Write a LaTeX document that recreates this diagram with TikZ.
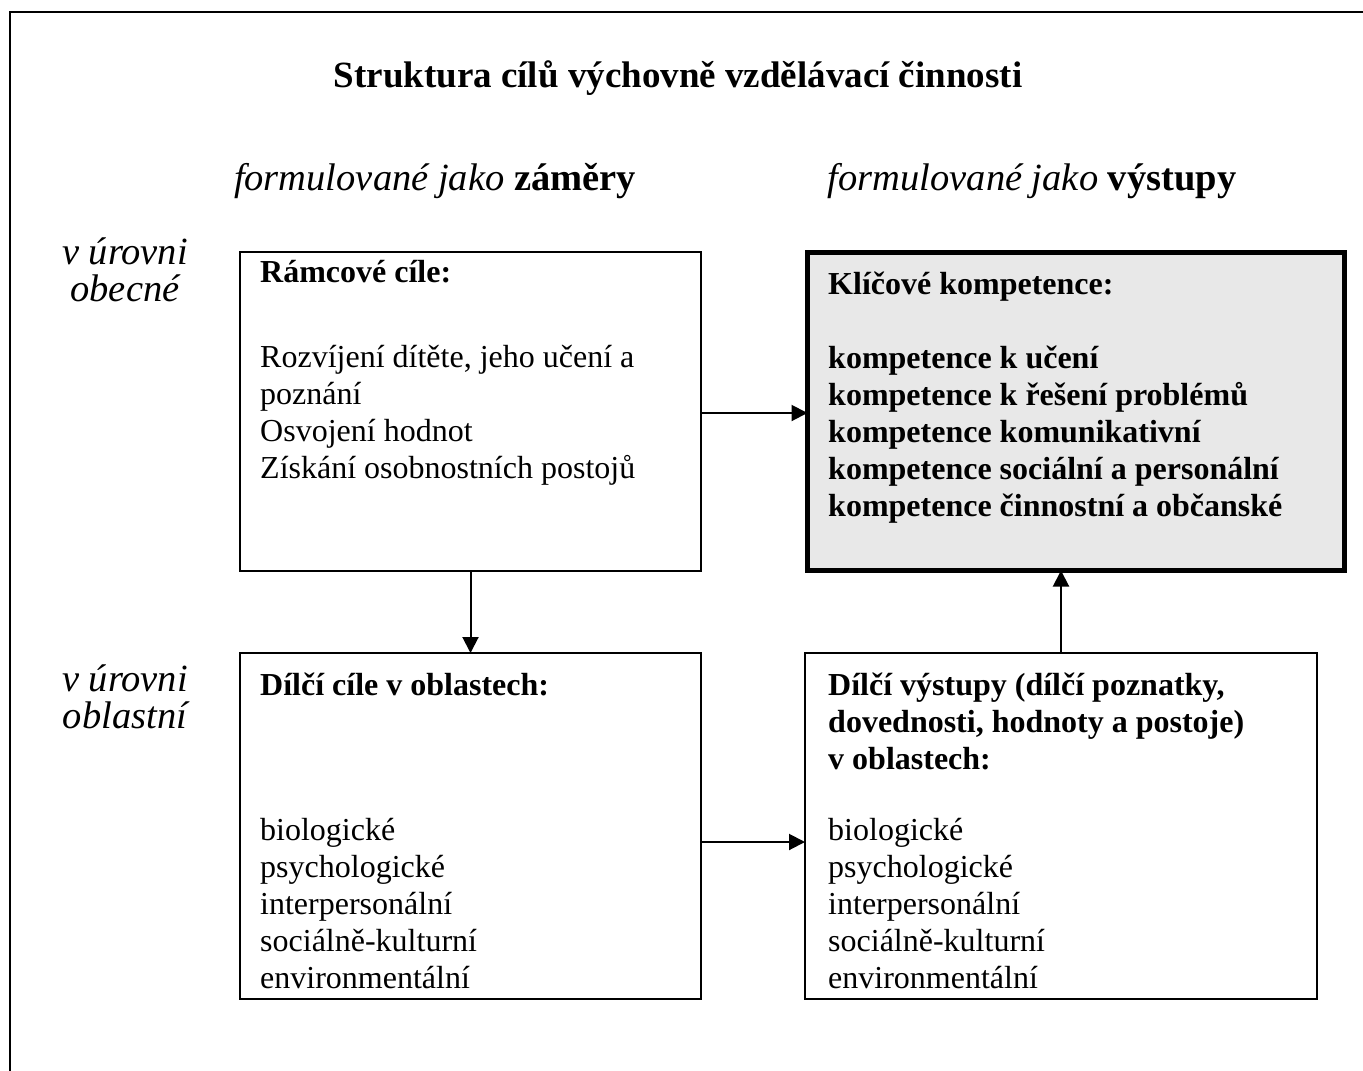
\documentclass[tikz,border=0pt]{standalone}
\usepackage{fontspec}
\setmainfont{Liberation Serif}
\usetikzlibrary{arrows.meta,calc}
\begin{document}
\begin{tikzpicture}[x=1pt,y=1pt,
  box/.style={draw, line width=2.2pt, inner sep=0pt, outer sep=0pt, anchor=north west},
  keybox/.style={box, line width=5pt, fill=black!9},
  txt/.style={anchor=base west, inner sep=0pt, align=left, font=\fontsize{32}{37}\selectfont},
  lvl/.style={anchor=base, inner sep=0pt, align=center, font=\fontsize{38.5}{37}\selectfont\itshape},
  head/.style={anchor=base, inner sep=0pt, font=\fontsize{38.5}{42}\selectfont},
  arr/.style={line width=2pt, -{Triangle[length=16pt,width=16pt]}}
]
\useasboundingbox (0,0) rectangle (1363,-1071);
% outer frame (only top and left edges visible)
\draw[line width=2.5pt] (10,-1080) -- (10,-12) -- (1375,-12);

% title
\node[anchor=base, inner sep=0pt, font=\fontsize{37}{42}\selectfont\bfseries] (title) at (678,-87)
  {Struktura cílů výchovně vzdělávací činnosti};

% column headings
\node[head] (hl) at (435,-190) {\textit{formulované jako} \textbf{záměry}};
\node[head] (hr) at (1032,-190) {\textit{formulované jako} \textbf{výstupy}};

% row labels (base anchor = last line)
\node[lvl] (lv1) at (125,-301) {v úrovni\\obecné};
\node[lvl] (lv2) at (125,-728) {v úrovni\\oblastní};

% boxes
\node[box, minimum width=461pt, minimum height=319pt] (ltop) at (240,-252) {};
\node[keybox, minimum width=537pt, minimum height=318pt] (rtop) at (807.5,-252.5) {};
\node[box, minimum width=461pt, minimum height=346pt] (lbot) at (240,-653) {};
\node[box, minimum width=512pt, minimum height=346pt] (rbot) at (805,-653) {};

% box texts (multi-line nodes: base anchor = last line)
\node[txt] (t1) at (260,-282) {\textbf{Rámcové cíle:}};
\node[txt] (t2) at (260,-478) {Rozvíjení dítěte, jeho učení a\\poznání\\Osvojení hodnot\\Získání osobnostních postojů};

\node[txt] (t3) at (828,-294) {\textbf{Klíčové kompetence:}};
\node[txt, font=\fontsize{32}{37}\selectfont\bfseries] (t4) at (828,-516)
  {kompetence k učení\\kompetence k řešení problémů\\kompetence komunikativní\\kompetence sociální a personální\\kompetence činnostní a občanské};

\node[txt] (t5) at (260,-695) {\textbf{Dílčí cíle v oblastech:}};
\node[txt] (t6) at (260,-988) {biologické\\psychologické\\interpersonální\\sociálně-kulturní\\environmentální};

\node[txt, font=\fontsize{32}{37}\selectfont\bfseries] (t7) at (828,-769)
  {Dílčí výstupy (dílčí poznatky,\\dovednosti, hodnoty a postoje)\\v oblastech:};
\node[txt] (t8) at (828,-988) {biologické\\psychologické\\interpersonální\\sociálně-kulturní\\environmentální};

% connectors
\coordinate (ya) at (0,-413);
\coordinate (yb) at (0,-842);
\draw[arr] (ltop.east |- ya) -- (rtop.west |- ya);
\draw[arr] (ltop.south) -- (lbot.north);
\draw[arr] (rbot.north) -- (rbot.north |- rtop.south);
\draw[arr] (lbot.east |- yb) -- (rbot.west |- yb);
\end{tikzpicture}
\end{document}
